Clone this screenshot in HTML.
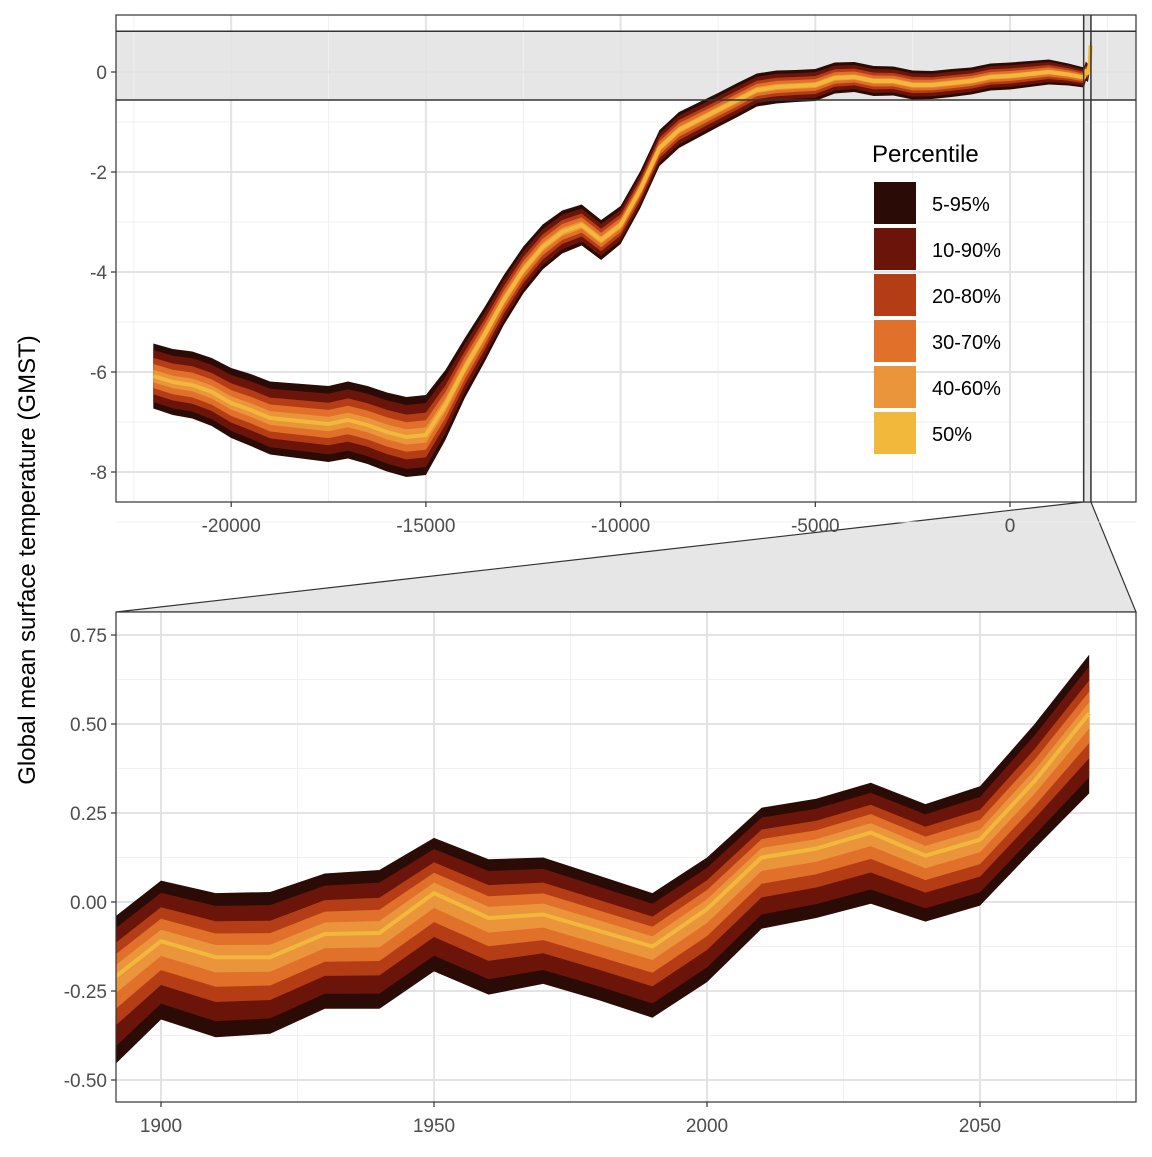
<!DOCTYPE html>
<html><head><meta charset="utf-8"><style>
body{margin:0;background:#fff}
svg text{font-family:"Liberation Sans",Arial,sans-serif}
</style></head><body>
<svg id="chart" width="1152" height="1152" viewBox="0 0 1152 1152" xmlns="http://www.w3.org/2000/svg">
<rect width="1152" height="1152" fill="#fff"/>
<defs>
<clipPath id="ctop"><rect x="116" y="15" width="1020" height="487"/></clipPath>
<clipPath id="cbot"><rect x="116" y="612" width="1020" height="490"/></clipPath>
</defs>
<g id="conn"></g>
<g id="top"></g>
<g id="bot"></g>
<text transform="translate(35,560) rotate(-90)" text-anchor="middle" font-size="24" fill="#000">Global mean surface temperature (GMST)</text>
<g>
<text x="872" y="162" font-size="24">Percentile</text>
<g id="leg"></g>
</g>
</svg>
<script>
// ---- top panel data (median and 5-95 half width) ----
const topYears = [-22000,-21500,-21000,-20500,-20000,-19500,-19000,-18500,-18000,-17500,-17000,-16500,-16000,-15500,-15000,-14500,-14000,-13500,-13000,-12500,-12000,-11500,-11000,-10500,-10000,-9500,-9000,-8500,-8000,-7500,-7000,-6500,-6000,-5500,-5000,-4500,-4000,-3500,-3000,-2500,-2000,-1500,-1000,-500,0,500,1000,1500,1900,1950,2000,2050,2070];
const topMed = [-6.08,-6.2,-6.26,-6.4,-6.62,-6.76,-6.92,-6.96,-7.0,-7.04,-6.96,-7.06,-7.2,-7.3,-7.26,-6.66,-5.92,-5.26,-4.56,-3.96,-3.5,-3.2,-3.06,-3.36,-3.06,-2.36,-1.52,-1.16,-0.96,-0.76,-0.56,-0.36,-0.3,-0.28,-0.26,-0.12,-0.1,-0.18,-0.18,-0.26,-0.26,-0.22,-0.18,-0.1,-0.08,-0.04,0.0,-0.05,-0.11,0.02,-0.02,0.17,0.53];
const topHalf = [0.65,0.66,0.67,0.68,0.7,0.72,0.73,0.74,0.75,0.76,0.77,0.78,0.79,0.8,0.8,0.7,0.6,0.55,0.5,0.47,0.45,0.43,0.41,0.4,0.38,0.37,0.36,0.36,0.35,0.34,0.34,0.33,0.33,0.32,0.32,0.31,0.3,0.3,0.29,0.29,0.28,0.28,0.27,0.27,0.27,0.26,0.25,0.22,0.2,0.19,0.18,0.17,0.2];
const topXTicks = [-20000,-15000,-10000,-5000,0];
const topYTicks = [0,-2,-4,-6,-8];
// ---- bottom panel data ----
const botYears = [1890,1900,1910,1920,1930,1940,1950,1960,1970,1980,1990,2000,2010,2020,2030,2040,2050,2060,2070];
const botQ95 = [-0.06,0.06,0.025,0.028,0.08,0.09,0.18,0.12,0.125,0.075,0.025,0.125,0.265,0.29,0.335,0.275,0.325,0.5,0.695];
const botQ50 = [-0.23,-0.11,-0.155,-0.155,-0.09,-0.087,0.025,-0.045,-0.035,-0.08,-0.125,-0.02,0.125,0.15,0.195,0.13,0.175,0.34,0.53];
const botQ05 = [-0.48,-0.33,-0.38,-0.37,-0.3,-0.3,-0.195,-0.26,-0.23,-0.275,-0.325,-0.225,-0.075,-0.045,-0.005,-0.055,-0.01,0.15,0.305];
const botXTicks = [1900,1950,2000,2050];
const botYTicks = [0.75,0.5,0.25,0,-0.25,-0.5];
const botYLabels = ["0.75","0.50","0.25","0.00","-0.25","-0.50"];
const bandFrac = [1,0.8,0.56,0.37,0.19];
const bandColors = ["#2b0b05","#6b1409","#b53d16","#e0702a","#ea953c"];
const legendLabels = ["5-95%","10-90%","20-80%","30-70%","40-60%","50%"];
const medColor = "#f2b83c";

const NS="http://www.w3.org/2000/svg";
function mk(t,a,p){const e=document.createElementNS(NS,t);for(const k in a)e.setAttribute(k,a[k]);p.appendChild(e);return e;}

function panel(g,x0,x1,y0,y1,xs,ys,xMinor,yMinor,xT,yT,yL,clip,years,lo,med,hi,pre){
  mk('rect',{x:x0,y:y0,width:x1-x0,height:y1-y0,fill:'#fff'},g);
  if(pre)pre(g);
  xMinor.forEach(v=>{const l=mk('line',{x1:xs(v),x2:xs(v),y1:y0,y2:y1,stroke:'#f0f0f0','stroke-width':1},g);});
  yMinor.forEach(v=>{const l=mk('line',{x1:x0,x2:x1,y1:ys(v),y2:ys(v),stroke:'#f0f0f0','stroke-width':1},g);});
  xT.forEach(v=>{const l=mk('line',{x1:xs(v),x2:xs(v),y1:y0,y2:y1,stroke:'#e3e3e3','stroke-width':2},g);
    mk('line',{x1:xs(v),x2:xs(v),y1:y1,y2:y1+5,stroke:'#333','stroke-width':1.2},g);
    const t=mk('text',{x:xs(v),y:y1+30,'text-anchor':'middle','font-size':19,fill:'#4d4d4d'},g);t.textContent=String(v);});
  yT.forEach((v,i)=>{const l=mk('line',{x1:x0,x2:x1,y1:ys(v),y2:ys(v),stroke:'#e3e3e3','stroke-width':2},g);
    mk('line',{x1:x0-5,x2:x0,y1:ys(v),y2:ys(v),stroke:'#333','stroke-width':1.2},g);
    const t=mk('text',{x:x0-9,y:ys(v)+7,'text-anchor':'end','font-size':19,fill:'#4d4d4d'},g);t.textContent=yL[i];});
  const cg=mk('g',{'clip-path':'url(#'+clip+')'},g);
  bandFrac.forEach((f,b)=>{
    let up=[],dn=[];
    years.forEach((yr,i)=>{up.push(xs(yr).toFixed(1)+','+ys(med[i]+(hi[i]-med[i])*f).toFixed(1));
      dn.unshift(xs(yr).toFixed(1)+','+ys(med[i]-(med[i]-lo[i])*f).toFixed(1));});
    const p=mk('polygon',{points:up.concat(dn).join(' '),fill:bandColors[b]},cg);
    
  });
  const pl=mk('polyline',{points:years.map((yr,i)=>xs(yr).toFixed(1)+','+ys(med[i]).toFixed(1)).join(' '),fill:'none',stroke:medColor,'stroke-width':4,'stroke-linejoin':'round'},cg);
  
  return cg;
}
const T=document.getElementById('top'),B=document.getElementById('bot'),C=document.getElementById('conn');
const txs=v=>1010+v*194.7/5000, tys=v=>72-v*50;
// connector trapezoid (drawn first so tick labels sit on top)
const cz=mk('polygon',{points:txs(1891.8)+',502 '+txs(2078.6)+',502 1136,612 116,612',fill:'#e6e6e6',stroke:'#333','stroke-width':1.2},C);

const tMinX=[-22500,-17500,-12500,-7500,-2500,2500], tMinY=[-9,-7,-5,-3,-1];
const topLo=topMed.map((m,i)=>m-topHalf[i]), topHi=topMed.map((m,i)=>m+topHalf[i]);
panel(T,116,1136,15,502,txs,tys,tMinX,tMinY,topXTicks,topYTicks,topYTicks.map(String),'ctop',topYears,topLo,topMed,topHi,function(g){
  const zb=mk('rect',{x:116,y:tys(0.815),width:1020,height:tys(-0.56)-tys(0.815),fill:'#e6e6e6'},g);
  
  const zv=mk('rect',{x:txs(1891.8),y:15,width:txs(2078.6)-txs(1891.8),height:487,fill:'#e6e6e6'},g);
  
});
mk('line',{x1:116,x2:1136,y1:tys(0.815),y2:tys(0.815),stroke:'#333','stroke-width':1.5},T);
mk('line',{x1:116,x2:1136,y1:tys(-0.56),y2:tys(-0.56),stroke:'#333','stroke-width':1.5},T);
mk('line',{x1:txs(1891.8),x2:txs(1891.8),y1:15,y2:502,stroke:'#333','stroke-width':1.5},T);
mk('line',{x1:txs(2078.6),x2:txs(2078.6),y1:15,y2:502,stroke:'#333','stroke-width':1.5},T);
mk('rect',{x:116,y:15,width:1020,height:487,fill:'none',stroke:'#333','stroke-width':1.2},T);
const bxs=v=>161+(v-1900)*273/50, bys=v=>902-v*356;
const bMinX=[1925,1975,2025,2075], bMinY=[0.625,0.375,0.125,-0.125,-0.375];
panel(B,116,1136,612,1102,bxs,bys,bMinX,bMinY,botXTicks,botYTicks,botYLabels,'cbot',botYears,botQ05,botQ50,botQ95);
mk('rect',{x:116,y:612,width:1020,height:490,fill:'none',stroke:'#333','stroke-width':1.2},B);
const L=document.getElementById('leg');
legendLabels.forEach((lab,i)=>{
  const y=182+i*46;
  const r=mk('rect',{x:874,y:y,width:42,height:42,fill:i<5?bandColors[i]:medColor},L);
  
  const t=mk('text',{x:932,y:y+29,'font-size':20,fill:'#000'},L);t.textContent=lab;
  
});
</script>
</body></html>
